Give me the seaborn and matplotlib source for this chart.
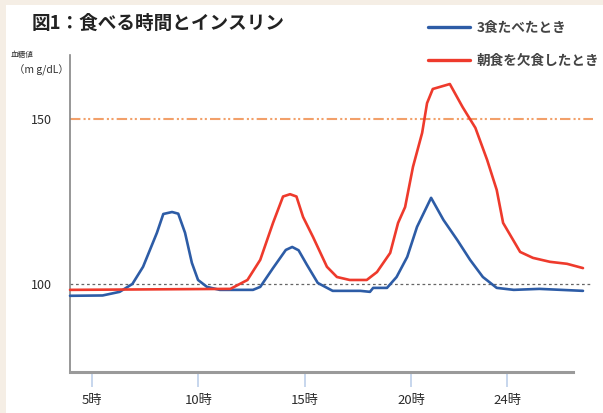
import matplotlib
matplotlib.use('Agg')
import matplotlib.pyplot as plt
from matplotlib.patches import Rectangle
import seaborn as sns
import pandas as pd

# blood sugar readings (hour of day, mg/dL)
blue_hours = [3.97, 5.5, 6.3, 6.9, 7.4, 8.05, 8.35, 8.76, 9.05, 9.37, 9.69, 9.98, 10.4, 11.0,
              12.56, 12.9, 13.5, 14.1, 14.4, 14.7, 15.09, 15.6, 16.3, 17.6, 18.05, 18.2, 18.85,
              19.3, 19.8, 20.26, 20.92, 21.5, 22.15, 22.75, 23.35, 24.0, 24.8, 26.0, 28.05]
blue_values = [96.4, 96.5, 97.6, 100.0, 105.2, 115.5, 121.2, 121.8, 121.3, 115.5, 106.4, 101.2, 99.1, 98.2,
               98.2, 99.1, 104.8, 110.3, 111.2, 110.2, 105.8, 100.3, 97.9, 97.9, 97.6, 98.8, 98.8,
               102.1, 108.2, 117.3, 126.1, 119.4, 113.3, 107.3, 102.1, 98.8, 98.2, 98.5, 97.9]

red_hours = [3.97, 11.5, 12.3, 12.9, 13.5, 13.97, 14.3, 14.6, 14.91, 15.38, 16.03, 16.5, 17.1,
             17.9, 18.38, 19.0, 19.37, 19.7, 20.07, 20.5, 20.73, 21.0, 21.8, 22.4, 23.0, 23.55,
             24.0, 24.3, 25.1, 25.7, 26.5, 27.3, 28.05]
red_values = [98.2, 98.5, 101.2, 107.3, 118.5, 126.5, 127.2, 126.5, 120.3, 114.2, 105.2, 102.1, 101.2,
              101.2, 103.6, 109.4, 118.5, 123.3, 135.5, 145.8, 154.8, 159.1, 160.6, 153.6, 147.3, 137.6,
              128.5, 118.5, 109.7, 107.9, 106.7, 106.1, 104.8]

series_names = ['3食たべたとき', '朝食を欠食したとき']
series_colors = ['#2d5ca6', '#ee3a2c']

tick_hours = [5, 10, 15, 20, 24.5]
tick_labels = ['5時', '10時', '15時', '20時', '24時']
ref_high = 150
ref_normal = 100

df = pd.concat([
    pd.DataFrame({'hour': blue_hours, 'value': blue_values, 'series': series_names[0]}),
    pd.DataFrame({'hour': red_hours, 'value': red_values, 'series': series_names[1]}),
])

sns.set_style('white')
plt.rcParams['font.family'] = ['Noto Sans CJK JP', 'DejaVu Sans']

fig = plt.figure(figsize=(6.03, 4.13), dpi=100, facecolor='#f5eee5')
fig.patches.append(Rectangle((6 / 603, 0), 1, 1 - 5 / 413, transform=fig.transFigure,
                             facecolor='white', edgecolor='none', zorder=-5))
ax = fig.add_axes([70 / 603, 41 / 413, 523 / 603, 317 / 413])
ax.set_facecolor('none')

ax.axhline(ref_high, color='#f2a06a', lw=1.5, dashes=(5, 1.5, 1, 1.2, 1, 1.5), zorder=1)
ax.axhline(ref_normal, color='#666666', lw=0.9, dashes=(2.2, 2.2), zorder=1)

sns.lineplot(data=df, x='hour', y='value', hue='series', palette=dict(zip(series_names, series_colors)),
             estimator=None, sort=False, linewidth=1.9, ax=ax, clip_on=False, zorder=3)

ax.set_xlim(3.97, 28.52)
ax.set_ylim(73.3, 169.4)
ax.set_xlabel('')
ax.set_ylabel('')
ax.set_xticks(tick_hours)
ax.set_xticklabels(tick_labels)
ax.set_yticks([ref_normal, ref_high])

for s in ['top', 'right']:
    ax.spines[s].set_visible(False)
ax.spines['bottom'].set_bounds(3.97, 27.58)
ax.spines['bottom'].set_color('#9a9a9a')
ax.spines['bottom'].set_linewidth(2.2)
ax.spines['left'].set_color('#858585')
ax.spines['left'].set_linewidth(1.2)

ax.tick_params(axis='x', bottom=True, direction='out', length=11, width=1.2, color='#bed0ea',
               pad=5, labelsize=9.5, labelcolor='#2b2b2b')
ax.tick_params(axis='y', left=False, pad=9.5, labelsize=9, labelcolor='#2b2b2b')

leg = ax.legend(loc='upper left', bbox_to_anchor=(428 / 603, 1 - 21 / 413),
                bbox_transform=fig.transFigure, frameon=False, fontsize=9.8,
                handlelength=3.1, handletextpad=0.45, labelspacing=1.4, borderpad=0,
                borderaxespad=0)
for line in leg.get_lines():
    line.set_linewidth(2.4)
for t in leg.get_texts():
    t.set_color('#444444')
    t.set_fontweight('bold')

fig.text(32 / 603, 1 - 23 / 413, '図1：食べる時間とインスリン', fontsize=13.4, fontweight='bold',
         va='center', ha='left', color='#222222')
fig.text(11 / 603, 1 - 55 / 413, '血糖値', fontsize=5.5, va='center', ha='left', color='#333333')
fig.text(14 / 603, 1 - 70 / 413, '（m g/dL）', fontsize=7.5, va='center', ha='left', color='#333333')

fig.savefig('out.png', dpi=100, facecolor=fig.get_facecolor())
